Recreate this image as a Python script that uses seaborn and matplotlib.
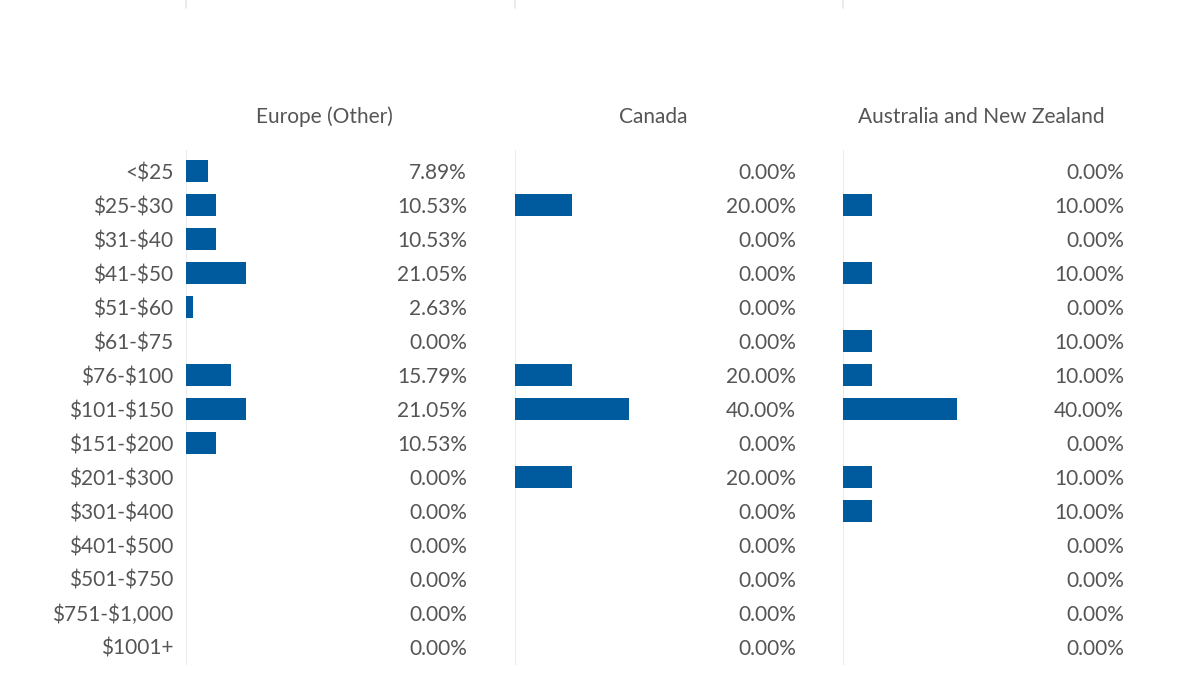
import matplotlib
matplotlib.use("Agg")
import matplotlib.pyplot as plt
from matplotlib.lines import Line2D
from matplotlib.transforms import blended_transform_factory
import seaborn as sns
import pandas as pd

categories = ["<$25", "$25-$30", "$31-$40", "$41-$50", "$51-$60", "$61-$75",
              "$76-$100", "$101-$150", "$151-$200", "$201-$300", "$301-$400",
              "$401-$500", "$501-$750", "$751-$1,000", "$1001+"]
regions = ["Europe (Other)", "Canada", "Australia and New Zealand"]
europe_other = [7.89, 10.53, 10.53, 21.05, 2.63, 0.00, 15.79, 21.05, 10.53,
                0.00, 0.00, 0.00, 0.00, 0.00, 0.00]
canada = [0.00, 20.00, 0.00, 0.00, 0.00, 0.00, 20.00, 40.00, 0.00,
          20.00, 0.00, 0.00, 0.00, 0.00, 0.00]
australia_nz = [0.00, 10.00, 0.00, 10.00, 0.00, 10.00, 10.00, 40.00, 0.00,
                10.00, 10.00, 0.00, 0.00, 0.00, 0.00]
series = [europe_other, canada, australia_nz]

sns.set_theme(style="white")
plt.rcParams['font.family'] = ['Lato', 'DejaVu Sans']
plt.rcParams['text.parse_math'] = False

BAR = "#005a9e"
TXT = "#555555"
GRID = "#e8e8e8"

W, H = 1200, 675
fig = plt.figure(figsize=(12, 6.75), dpi=100)

lefts = [186, 515, 843]
ax_w = 285
ax_top, ax_bot = 150, 665

for i, (region, vals) in enumerate(zip(regions, series)):
    ax = fig.add_axes([lefts[i] / W, 1 - ax_bot / H, ax_w / W, (ax_bot - ax_top) / H])
    df = pd.DataFrame({"cat": categories, "val": vals})
    sns.barplot(data=df, y="cat", x="val", orient="h", color=BAR, width=0.67,
                saturation=1, linewidth=0, ax=ax)
    ax.set_xlim(0, 100)
    ax.set_ylim(len(categories) - 0.47, -0.62)
    for s in ax.spines.values():
        s.set_visible(False)
    ax.axvline(0, color=GRID, lw=1.2, zorder=0)
    ax.set_xticks([])
    ax.set_xlabel("")
    ax.set_ylabel("")
    if i == 0:
        ax.tick_params(axis="y", length=0, pad=9, labelsize=15, labelcolor=TXT)
    else:
        ax.set_yticks([])
    for j, v in enumerate(vals):
        ax.text(0.986, j, f"{v:.2f}%", transform=ax.get_yaxis_transform(),
                ha="right", va="center_baseline", fontsize=15, color=TXT)
    tr = blended_transform_factory(ax.transAxes, fig.transFigure)
    ax.text(0.485, (H - 117) / H, region, transform=tr, ha="center",
            va="center", fontsize=15, color=TXT)
    # faint continuation of the previous chart's axis line at the top
    fig.add_artist(Line2D([lefts[i] / W, lefts[i] / W], [1.0, 1 - 8 / H],
                          transform=fig.transFigure, color=GRID, lw=1.2))

fig.savefig("out.png", dpi=100, facecolor="white")
